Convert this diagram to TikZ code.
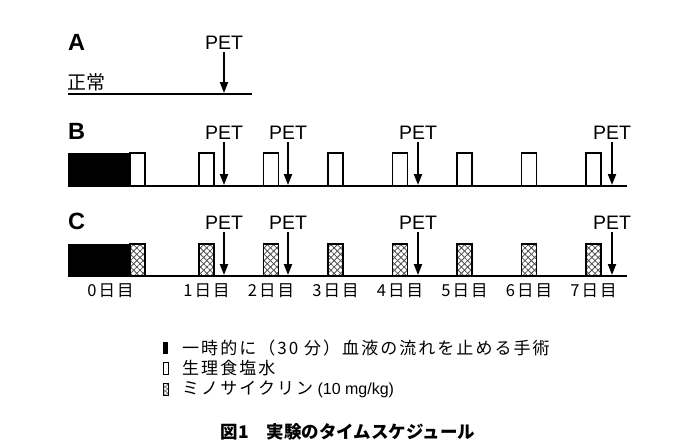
\documentclass[tikz,border=0pt]{standalone}
\usepackage{fontspec}
\setmainfont{Liberation Sans}
\newfontfamily\jp{Noto Sans CJK JP}
\newfontfamily\jpday[LetterSpace=12]{Noto Sans CJK JP}
\newfontfamily\jpleg[LetterSpace=12]{Noto Sans CJK JP}
\usetikzlibrary{patterns.meta,arrows.meta}
\tikzset{
  baseline rule/.style={line width=1.3pt},
  petlbl/.style={font=\fontsize{19.5}{20}\selectfont, inner sep=0pt, anchor=south},
  petarrow/.style={line width=2pt, -{Triangle[length=11pt,width=8pt]}},
  rowlbl/.style={font=\bfseries\fontsize{23.5}{25}\selectfont, inner sep=0pt, anchor=west},
  daylbl/.style={font=\jpday\fontsize{16.5}{18}\selectfont, inner sep=0pt},
  leglbl/.style={font=\jpleg\fontsize{17}{19}\selectfont, inner sep=0pt, anchor=west},
  surgery/.style={fill=black},
  salbox/.style={draw, line width=1.4pt, fill=white},
  minobox/.style={fill=white,
    postaction={pattern={Lines[angle=45,distance=4.5pt,line width=0.8pt]}, pattern color=black!70},
    postaction={pattern={Lines[angle=-45,distance=4.5pt,line width=0.8pt]}, pattern color=black!70},
    postaction={draw, line width=1.4pt}},
}
\begin{document}
\begin{tikzpicture}[x=1pt,y=-1pt]
\useasboundingbox (0,0) rectangle (700,442);

% ---------- A ----------
\node[rowlbl] (labA) at (68,42) {A};
\node[font=\jp\fontsize{19}{20}\selectfont, inner sep=0pt, anchor=west] (normal) at (67,82) {正常};
\coordinate (aL) at (68,94);
\coordinate (aR) at (252,94);
\draw[baseline rule] (aL) -- (aR);
\node[petlbl] (petA) at (224,50) {PET};
\coordinate (tipA) at (224,93);
\draw[petarrow] ([yshift=-2pt]petA.south) -- (tipA);

% ---------- B ----------
\node[rowlbl] (labB) at (68,131) {B};
\fill[surgery] (68,153) rectangle (130,186);
\draw[salbox] (130,153) rectangle (145,186);
\foreach \n in {1,...,7} {
  \pgfmathsetmacro\xl{199+64.5*(\n-1)}
  \draw[salbox] (\xl,153) rectangle ++(15,33);
}
\coordinate (bL) at (68,186);
\coordinate (bR) at (627,186);
\draw[baseline rule] (bL) -- (bR);
\foreach \nm/\x in {1/224,2/288,4/418,7/612} {
  \node[petlbl] (petB\nm) at (\x,140) {PET};
  \coordinate (tipB\nm) at (\x,185);
  \draw[petarrow] ([yshift=-2pt]petB\nm.south) -- (tipB\nm);
}

% ---------- C ----------
\node[rowlbl] (labC) at (68,221) {C};
\fill[surgery] (68,244) rectangle (130,276);
\path[minobox] (130,244) rectangle (145,276);
\foreach \n in {1,...,7} {
  \pgfmathsetmacro\xl{199+64.5*(\n-1)}
  \path[minobox] (\xl,244) rectangle ++(15,32);
}
\coordinate (cL) at (68,276);
\coordinate (cR) at (627,276);
\draw[baseline rule] (cL) -- (cR);
\foreach \nm/\x in {1/224,2/288,4/418,7/612} {
  \node[petlbl] (petC\nm) at (\x,230) {PET};
  \coordinate (tipC\nm) at (\x,275);
  \draw[petarrow] ([yshift=-2pt]petC\nm.south) -- (tipC\nm);
}

% day labels
\node[daylbl] (d0) at (110.5,291) {0日目};
\foreach \n in {1,...,7} {
  \pgfmathsetmacro\xc{206.5+64.5*(\n-1)}
  \node[daylbl] (d\n) at (\xc,291) {{\n}日目};
}

% ---------- legend ----------
\fill[surgery] (163,342) rectangle (168,354);
\node[leglbl] (leg1) at (182,348) {一時的に（30 分）血液の流れを止める手術};
\draw[line width=1pt, fill=white] (163,362.5) rectangle (168,374);
\node[leglbl] (leg2) at (182,368) {生理食塩水};
\path[fill=white,
    postaction={pattern={Lines[angle=45,distance=3pt,line width=0.6pt]}, pattern color=black!65},
    postaction={pattern={Lines[angle=-45,distance=3pt,line width=0.6pt]}, pattern color=black!65},
    postaction={draw, line width=1pt}] (163,383) rectangle (168,395);
\node[leglbl] (leg3) at (182,389) {ミノサイクリン{\rmfamily\fontsize{16}{18}\selectfont\ (10 mg/kg)}};

% ---------- caption ----------
\node[font=\jp\bfseries\fontsize{17.5}{19}\selectfont, inner sep=0pt] (cap) at (348,432) {図1　実験のタイムスケジュール};
\end{tikzpicture}
\end{document}
